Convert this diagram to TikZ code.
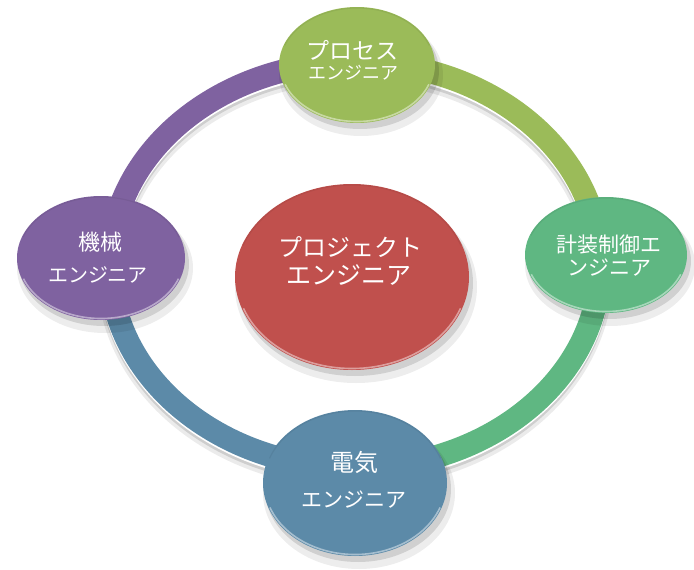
\documentclass[tikz,border=0pt]{standalone}
\usepackage{fontspec}
\newfontfamily\jp{Noto Sans CJK JP}
\usetikzlibrary{shapes.geometric}
\definecolor{cproc}{RGB}{155,187,89}
\definecolor{cinst}{RGB}{95,183,130}
\definecolor{cmech}{RGB}{127,98,160}
\definecolor{celec}{RGB}{92,138,168}
\definecolor{cproj}{RGB}{192,80,77}
\tikzset{
  disc/.style={ellipse, inner sep=0pt, draw=none},
  band/.style={line width=23pt, line cap=butt},
  lbl/.style={text=white, inner sep=0pt},
}
\newcommand\mydisc[6]{%
  \fill[black,opacity=.07] (#2+4,#3-10) ellipse[x radius=#4+4,y radius=#5+3];
  \fill[black,opacity=.12] (#2+3,#3-6) ellipse[x radius=#4+1,y radius=#5];
  \node[disc,fill=#6,minimum width={2*#4},minimum height={2*#5}] (#1) at (#2,#3) {};
  \draw[white,opacity=.45,line width=1.6pt] ({#2+(#4-1.5)*cos(200)},{#3+(#5-1.5)*sin(200)}) arc[start angle=200,end angle=340,x radius=#4-1.5,y radius=#5-1.5];
  \draw[black,opacity=.06,line width=1.2pt] ({#2+(#4-1)*cos(20)},{#3+(#5-1)*sin(20)}) arc[start angle=20,end angle=160,x radius=#4-1,y radius=#5-1];
}
\begin{document}
\begin{tikzpicture}[x=1pt,y=1pt]
\fill[white] (0,0) rectangle (694,-570);
\useasboundingbox (0,0) rectangle (694,-570);
% ring points
\coordinate (rt) at (355,-62);
\coordinate (rl) at (110,-265);
\coordinate (rb) at (355,-468);
\coordinate (rr) at (600,-265);
% ring shadow and rim
\draw[black,opacity=.08,line width=27pt] ([yshift=-7pt]rt) arc[start angle=90,end angle=450,x radius=245,y radius=203];
\draw[black,opacity=.12,line width=23pt] ([yshift=-5pt]rt) arc[start angle=90,end angle=450,x radius=245,y radius=203];
\draw[white,line width=23pt] ([yshift=-2pt]rt) arc[start angle=90,end angle=450,x radius=245,y radius=203];
% ring segments
\draw[band,draw=cmech] (rt) arc[start angle=90,end angle=180,x radius=245,y radius=203];
\draw[band,draw=celec] (rl) arc[start angle=180,end angle=270,x radius=245,y radius=203];
\draw[band,draw=cinst] (rb) arc[start angle=270,end angle=360,x radius=245,y radius=203];
\draw[band,draw=cproc] (rr) arc[start angle=0,end angle=90,x radius=245,y radius=203];
% discs
\mydisc{proc}{357}{-65}{78}{58}{cproc}
\mydisc{inst}{606}{-255}{81}{58}{cinst}
\mydisc{mech}{101}{-258}{84}{62}{cmech}
\mydisc{elec}{355}{-483}{92}{73}{celec}
\mydisc{proj}{352}{-277}{117}{93}{cproj}
% labels
\node[lbl,font=\jp\fontsize{23}{26}\selectfont] (proc1) at (352,-50) {プロセス};
\node[lbl,font=\jp\fontsize{18}{21}\selectfont] (proc2) at (353,-73) {エンジニア};
\node[lbl,font=\jp\fontsize{21}{24}\selectfont] (inst1) at (609,-245) {計装制御エ};
\node[lbl,font=\jp\fontsize{21}{24}\selectfont] (inst2) at (609,-268) {ンジニア};
\node[lbl,font=\jp\fontsize{22}{25}\selectfont] (mech1) at (100,-242) {機械};
\node[lbl,font=\jp\fontsize{20}{23}\selectfont] (mech2) at (98,-275) {エンジニア};
\node[lbl,font=\jp\fontsize{24}{27}\selectfont] (elec1) at (354,-462) {電気};
\node[lbl,font=\jp\fontsize{21}{24}\selectfont] (elec2) at (354,-500) {エンジニア};
\node[lbl,font=\jp\fontsize{24}{27}\selectfont] (proj1) at (350,-247) {プロジェクト};
\node[lbl,font=\jp\fontsize{25}{28}\selectfont] (proj2) at (349,-275) {エンジニア};
\end{tikzpicture}
\end{document}
